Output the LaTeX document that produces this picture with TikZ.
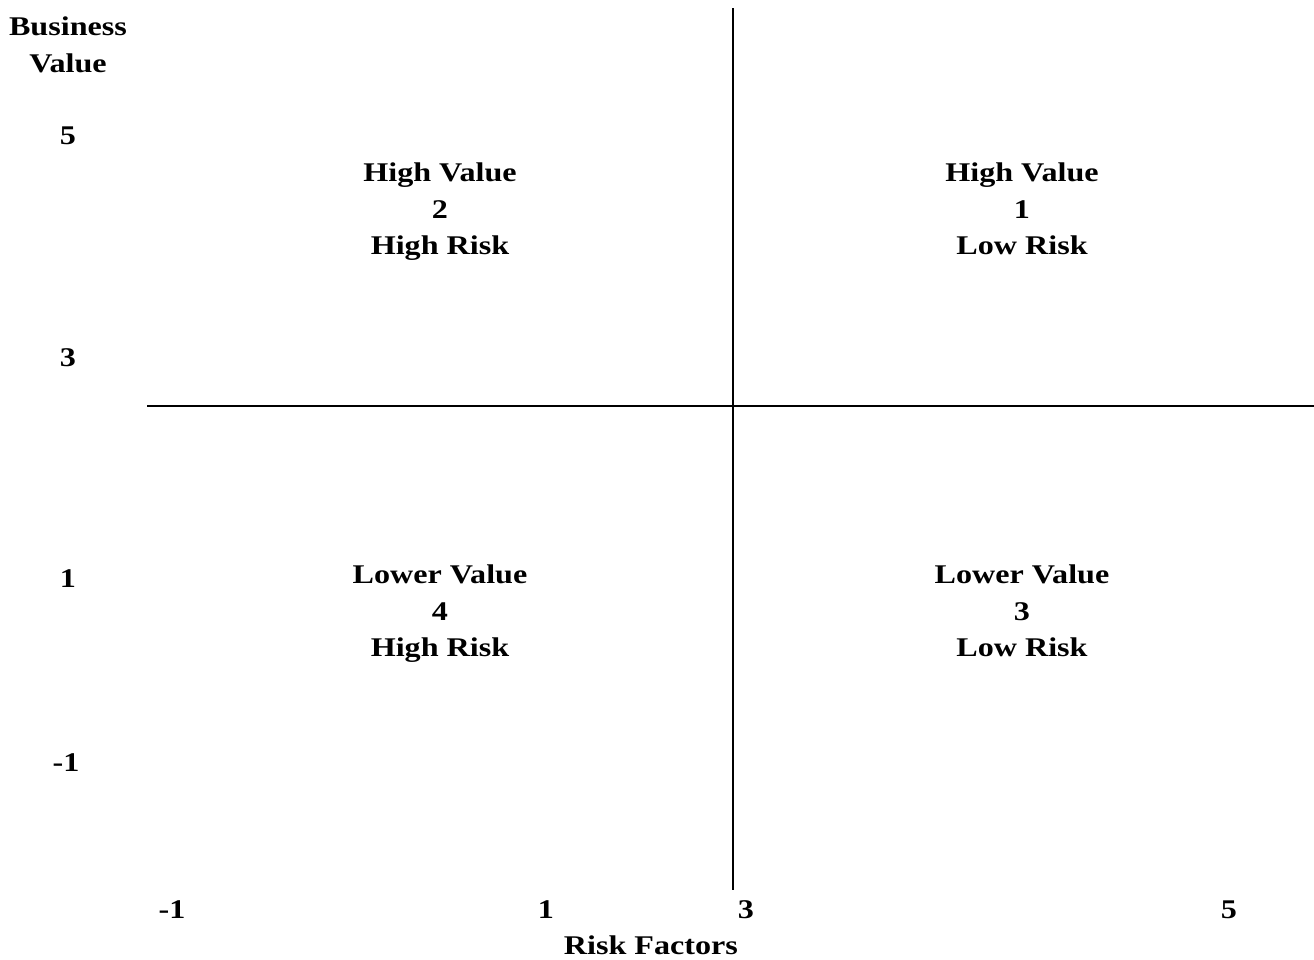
\documentclass[tikz,border=0pt]{standalone}
\usepackage{fontspec}
\setmainfont[FakeStretch=1.19]{Liberation Serif}
\begin{document}
\begin{tikzpicture}[x=1pt,y=-1pt,
  lbl/.style={font=\fontsize{27}{36.5}\selectfont\bfseries, inner sep=0pt, align=center},
  quad/.style={lbl, anchor=north},
  axis/.style={line width=1.8pt, black}]
\useasboundingbox (0,0) rectangle (1314,959);
\coordinate (vt) at (733,8);
\coordinate (vb) at (733,890);
\coordinate (hl) at (147,406);
\coordinate (hr) at (1314,406);
\draw[axis] (vt) -- (vb);
\draw[axis] (hl) -- (hr);
\node[lbl] (yt) at (68,45) {Business\\Value};
\node[lbl] (y5) at (68,136) {5};
\node[lbl] (y3) at (68,358) {3};
\node[lbl] (y1) at (68,579) {1};
\node[lbl] (ym1) at (66,763) {-1};
\node[lbl] (xm1) at (172,910) {-1};
\node[lbl] (x1) at (546,910) {1};
\node[lbl] (x3) at (746,910) {3};
\node[lbl] (x5) at (1229,910) {5};
\node[lbl] (xt) at (651,945) {Risk Factors};
\node[quad] (q2) at (440,163) {High Value\\2\\High Risk};
\node[quad] (q1) at (1022,163) {High Value\\1\\Low Risk};
\node[quad] (q4) at (440,565) {Lower Value\\4\\High Risk};
\node[quad] (q3) at (1022,565) {Lower Value\\3\\Low Risk};
\end{tikzpicture}
\end{document}
